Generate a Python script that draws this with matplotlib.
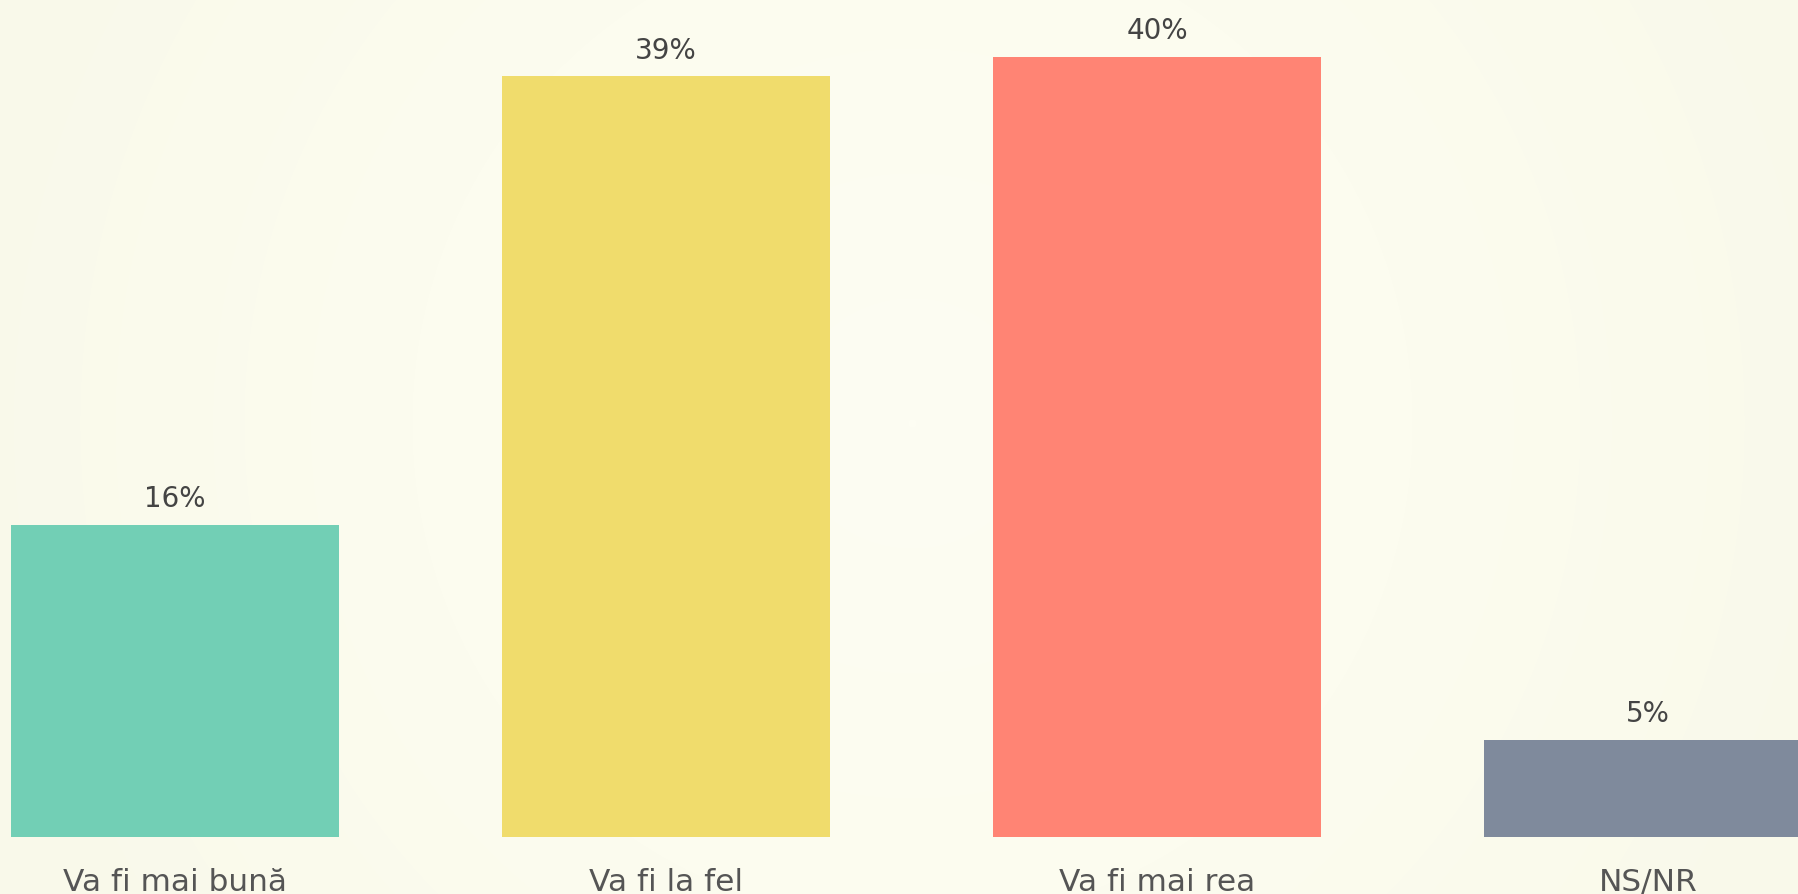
import numpy as np
import matplotlib.pyplot as plt
from matplotlib.colors import LinearSegmentedColormap

# Survey answers
categories = ['Va fi mai bună', 'Va fi la fel', 'Va fi mai rea', 'NS/NR']
values = [16, 39, 40, 5]
value_labels = ['16%', '39%', '40%', '5%']
colors = ['#72cfb5', '#f0dc6c', '#ff8474', '#7f8a9c']

W, H = 1798, 895
fig = plt.figure(figsize=(W / 100, H / 100), dpi=100)

# soft radial background
bg = fig.add_axes([0, 0, 1, 1], zorder=-1)
yy, xx = np.mgrid[0:H, 0:W]
r = np.sqrt((xx - 912) ** 2 + (yy - 424) ** 2) / 1000
cmap = LinearSegmentedColormap.from_list('bg', ['#fdfdf3', '#fcfcef', '#f9f9ea'])
bg.imshow(np.clip(r, 0, 1), cmap=cmap, vmin=0, vmax=1, aspect='auto',
          extent=(0, W, H, 0), interpolation='bilinear')
bg.axis('off')

ax = fig.add_axes([0, 0, 1, 1])
ax.patch.set_alpha(0)
x = np.arange(len(categories))
ax.bar(x, values, width=328 / 491, color=colors, linewidth=0)
ax.set_xlim(-175 / 491, (W - 175) / 491)
ax.set_ylim(-57 / 19.5, (H - 57) / 19.5)
ax.axis('off')

for i in range(len(categories)):
    ax.annotate(value_labels[i], (x[i], values[i]), xytext=(0, 13.5),
                textcoords='offset points', ha='center', va='baseline',
                fontsize=20, color='#444444')
    ax.annotate(categories[i], (x[i], 0), xytext=(0, -38),
                textcoords='offset points', ha='center', va='baseline',
                fontsize=22.5, color='#555555')

fig.savefig('out.png', dpi=100)
